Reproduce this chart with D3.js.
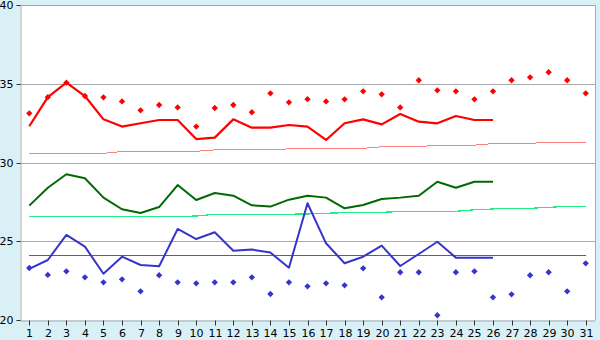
<!DOCTYPE html>
<html>
<head>
<meta charset="utf-8">
<script src="https://cdn.jsdelivr.net/npm/d3@7"></script>
<style>
  html, body { margin: 0; padding: 0; background: #d9f0f7; }
  svg { display: block; }
  text { font-family: "DejaVu Sans", Verdana, sans-serif; font-size: 11px; fill: #000; }
</style>
</head>
<body>
<svg id="chart" width="600" height="340"></svg>
<script>
// ---- data ----
const days = d3.range(1, 32);
const yTicks = [20, 25, 30, 35, 40];

// thick red line (days 1-26)
const redLine = [32.3, 34.15, 35.07, 34.22, 32.74, 32.28, 32.49, 32.7, 32.7, 31.49, 31.58, 32.74, 32.21, 32.21, 32.38, 32.28, 31.43, 32.49, 32.74, 32.42, 33.08, 32.59, 32.49, 32.95, 32.7, 32.7];
// red markers (days 1-31)
const redPoints = [33.12, 34.15, 35.07, 34.22, 34.14, 33.88, 33.31, 33.65, 33.5, 32.28, 33.46, 33.65, 33.19, 34.39, 33.82, 34.02, 33.88, 34.01, 34.52, 34.33, 33.5, 35.22, 34.58, 34.52, 34.01, 34.52, 35.22, 35.41, 35.73, 35.22, 34.39];
// thin pink reference line (days 1-31)
const pinkLine = [30.58, 30.58, 30.58, 30.58, 30.58, 30.7, 30.71, 30.71, 30.71, 30.71, 30.8, 30.84, 30.84, 30.84, 30.86, 30.9, 30.9, 30.9, 30.9, 31.0, 31.03, 31.03, 31.07, 31.09, 31.1, 31.2, 31.22, 31.22, 31.28, 31.3, 31.3];

// thick dark green line (days 1-26)
const greenLine = [27.26, 28.4, 29.25, 29.0, 27.77, 27.03, 26.79, 27.17, 28.57, 27.62, 28.06, 27.89, 27.28, 27.2, 27.64, 27.89, 27.77, 27.09, 27.3, 27.68, 27.77, 27.89, 28.78, 28.4, 28.78, 28.78];
// thin light green reference line (days 1-31)
const lightGreenLine = [26.58, 26.58, 26.58, 26.58, 26.58, 26.58, 26.58, 26.58, 26.58, 26.6, 26.71, 26.71, 26.71, 26.71, 26.72, 26.73, 26.78, 26.81, 26.81, 26.84, 26.88, 26.88, 26.88, 26.9, 27.0, 27.05, 27.09, 27.09, 27.15, 27.22, 27.22];

// thick blue line (days 1-26)
const blueLine = [23.24, 23.81, 25.4, 24.66, 22.94, 24.02, 23.49, 23.41, 25.78, 25.14, 25.57, 24.4, 24.47, 24.28, 23.32, 27.41, 24.87, 23.6, 24.02, 24.72, 23.43, 24.19, 24.97, 23.96, 23.96, 23.96];
// blue markers (days 1-31)
const bluePoints = [23.3, 22.86, 23.09, 22.71, 22.39, 22.58, 21.82, 22.84, 22.39, 22.33, 22.39, 22.39, 22.71, 21.65, 22.39, 22.14, 22.33, 22.2, 23.28, 21.44, 23.03, 23.03, 20.3, 23.03, 23.09, 21.44, 21.63, 22.84, 23.03, 21.82, 23.6];
// flat blue reference line (days 1-31)
const blueRef = days.map(() => 24.11);

// ---- layout ----
const svg = d3.select("#chart");
const L = 20, R = 595, T = 5, B = 320;

const x = d3.scalePoint().domain(days).range([L, R]).padding(0.5);
const y = d3.scaleLinear().domain([20, 40]).range([B, T]);

// plot background
svg.append("rect").attr("x", L).attr("y", T).attr("width", R - L).attr("height", B - T).attr("fill", "#ffffff");

// grid lines
svg.append("g").selectAll("line").data(yTicks.slice(1)).join("line")
  .attr("x1", L).attr("x2", R)
  .attr("y1", d => Math.round(y(d)) + 0.5).attr("y2", d => Math.round(y(d)) + 0.5)
  .attr("stroke", "#aaaaaa").attr("stroke-width", 1);
// right border
svg.append("line").attr("x1", R + 0.5).attr("x2", R + 0.5).attr("y1", T).attr("y2", B)
  .attr("stroke", "#aaaaaa");

// axes
const yAxis = d3.axisLeft(y).tickValues(yTicks).tickSize(4).tickPadding(3).tickFormat(d3.format("d"));
const gy = svg.append("g").attr("transform", `translate(${L + 0.5},0)`).call(yAxis);
gy.select(".domain").attr("stroke", "#aaaaaa");
gy.selectAll(".tick line").attr("stroke", "#333");
gy.selectAll(".tick").attr("transform", d => `translate(0,${Math.round(y(d)) + 0.5})`);
gy.selectAll("text").style("font-family", "'DejaVu Sans', Verdana, sans-serif").style("font-size", "11px").attr("fill", "#000");

const xAxis = d3.axisBottom(x).tickSize(5).tickPadding(4).tickSizeOuter(0);
const gx = svg.append("g").attr("transform", `translate(0,${B + 0.5})`).call(xAxis);
gx.select(".domain").attr("stroke", "#aaaaaa");
gx.selectAll(".tick line").attr("stroke", "#333");
gx.selectAll(".tick").attr("transform", d => `translate(${Math.round(x(d)) + 0.5},0)`);
gx.selectAll("text").style("font-family", "'DejaVu Sans', Verdana, sans-serif").style("font-size", "11px").attr("fill", "#000");

const line = d3.line().x((d, i) => x(days[i])).y(d => y(d));

function drawLine(data, color, width, crisp) {
  svg.append("path").datum(data)
    .attr("d", line)
    .attr("fill", "none")
    .attr("stroke", color)
    .attr("stroke-width", width)
    .attr("stroke-linejoin", "round")
    .style("shape-rendering", crisp ? "crispEdges" : "auto");
}

// reference lines
drawLine(pinkLine, "#ff8080", 1, true);
drawLine(lightGreenLine, "#22ee88", 1.2, true);
drawLine(blueRef, "#1a6fe0", 1.2, true);

// main lines
drawLine(redLine, "#ff0000", 2.2, false);
drawLine(greenLine, "#006a00", 2, false);
drawLine(blueLine, "#3535cc", 2, false);

// markers
const sym = d3.symbol().type(d3.symbolSquare).size(20);
function drawPoints(data, color) {
  svg.append("g").selectAll("path").data(data).join("path")
    .attr("d", sym)
    .attr("transform", (d, i) => `translate(${x(days[i])},${y(d)}) rotate(45)`)
    .attr("fill", color);
}
drawPoints(redPoints, "#ff0000");
drawPoints(bluePoints, "#3535cc");
</script>
</body>
</html>
